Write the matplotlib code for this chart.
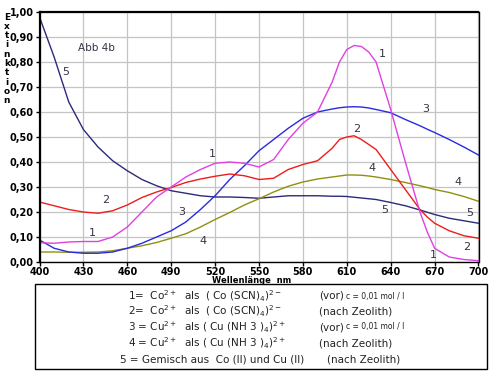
import matplotlib
matplotlib.use("Agg")
import matplotlib.pyplot as plt
from matplotlib.patches import Rectangle

plt.rcParams['font.family'] = ['DejaVu Sans']
plt.rcParams['mathtext.default'] = 'regular'

# wavelengths (nm)
wl = [400, 410, 420, 430, 440, 450, 460, 470, 480, 490, 500, 510, 520, 530, 540,
      550, 560, 570, 580, 590, 600, 605, 610, 615, 620, 625, 630, 640, 650, 660,
      665, 670, 680, 690, 700]

s1 = [0.077, 0.075, 0.080, 0.082, 0.082, 0.100, 0.140, 0.200, 0.260, 0.300, 0.340,
      0.370, 0.395, 0.400, 0.395, 0.380, 0.410, 0.490, 0.555, 0.600, 0.720, 0.800,
      0.850, 0.866, 0.862, 0.840, 0.800, 0.610, 0.400, 0.200, 0.120, 0.055, 0.020,
      0.010, 0.005]
s2 = [0.240, 0.225, 0.210, 0.200, 0.195, 0.205, 0.228, 0.258, 0.280, 0.298, 0.318,
      0.332, 0.343, 0.352, 0.345, 0.330, 0.335, 0.370, 0.390, 0.405, 0.455, 0.490,
      0.500, 0.505, 0.490, 0.470, 0.450, 0.370, 0.290, 0.210, 0.180, 0.155, 0.125,
      0.105, 0.095]
s3 = [0.088, 0.055, 0.040, 0.035, 0.035, 0.040, 0.055, 0.075, 0.100, 0.125, 0.160,
      0.210, 0.265, 0.330, 0.385, 0.445, 0.490, 0.535, 0.575, 0.600, 0.612, 0.617,
      0.620, 0.621, 0.620, 0.616, 0.610, 0.597, 0.570, 0.545, 0.531, 0.518, 0.490,
      0.460, 0.428]
s4 = [0.040, 0.040, 0.039, 0.039, 0.040, 0.045, 0.055, 0.065, 0.078, 0.095, 0.113,
      0.140, 0.170, 0.198, 0.228, 0.253, 0.280, 0.303, 0.320, 0.332, 0.340, 0.344,
      0.348, 0.348, 0.347, 0.344, 0.340, 0.330, 0.318, 0.305, 0.298, 0.290, 0.278,
      0.262, 0.243]
s5 = [0.980, 0.820, 0.640, 0.530, 0.460, 0.405, 0.365, 0.330, 0.305, 0.285, 0.275,
      0.265, 0.260, 0.260, 0.258, 0.255, 0.260, 0.265, 0.265, 0.265, 0.263, 0.263,
      0.262, 0.259, 0.256, 0.253, 0.250, 0.238, 0.225, 0.208, 0.199, 0.190, 0.175,
      0.165, 0.155]

x_ticks = [400, 430, 460, 490, 520, 550, 580, 610, 640, 670, 700]
y_ticks = [0.0, 0.1, 0.2, 0.3, 0.4, 0.5, 0.6, 0.7, 0.8, 0.9, 1.0]
y_ticklabels = ["0,00", "0,10", "0,20", "0,30", "0,40", "0,50", "0,60", "0,70",
                "0,80", "0,90", "1,00"]

curve_labels = [("5", 418, 0.76), ("1", 634, 0.832), ("3", 664, 0.61), ("2", 617, 0.53),
                ("1", 518, 0.432), ("2", 445, 0.248), ("4", 627, 0.375), ("4", 686, 0.319),
                ("3", 497, 0.201), ("5", 694, 0.197), ("5", 636, 0.208), ("4", 512, 0.085),
                ("1", 436, 0.115), ("2", 692, 0.061), ("1", 669, 0.028)]

legend_lines = [
    r"1=  Co$^{2+}$  als  ( Co (SCN)$_{4}$)$^{2-}$",
    r"2=  Co$^{2+}$  als  ( Co (SCN)$_{4}$)$^{2-}$",
    r"3 = Cu$^{2+}$  als ( Cu (NH 3 )$_{4}$)$^{2+}$",
    r"4 = Cu$^{2+}$  als ( Cu (NH 3 )$_{4}$)$^{2+}$",
    "5 = Gemisch aus  Co (II) und Cu (II)",
]
legend_notes = ["(vor)", "(nach Zeolith)", "(vor)", "(nach Zeolith)", "(nach Zeolith)"]
conc_note = "c = 0,01 mol / l"

fig = plt.figure(figsize=(4.93, 3.80), dpi=100)
ax = fig.add_axes([39.5 / 493, 1 - 262 / 380, (478.5 - 39.5) / 493, (262 - 12) / 380])

ax.plot(wl, s5, color="#2b2b7a", lw=1.0)
ax.plot(wl, s4, color="#8f8f10", lw=1.0)
ax.plot(wl, s3, color="#2a2ae0", lw=1.0)
ax.plot(wl, s2, color="#ee1c1c", lw=1.0)
ax.plot(wl, s1, color="#e040e0", lw=1.0)

ax.set_xlim(400, 700)
ax.set_ylim(0, 1.0)
ax.set_xticks(x_ticks)
ax.set_xticklabels([str(v) for v in x_ticks], fontsize=7, fontweight="bold")
ax.set_yticks(y_ticks)
ax.set_yticklabels(y_ticklabels, fontsize=7, fontweight="bold")
ax.tick_params(axis="both", length=3, width=1, pad=1)
ax.tick_params(axis="x", pad=0.5)
ax.grid(True, color="#c4c4c4", lw=0.9)
ax.set_axisbelow(True)
for side in ["left", "top"]:
    ax.spines[side].set_linewidth(1.6)
for side in ["right", "bottom"]:
    ax.spines[side].set_linewidth(1.0)

for txt, xv, yv in curve_labels:
    ax.text(xv, yv, txt, fontsize=8, color="#333344", ha="center", va="center")
ax.text(439, 0.856, "Abb 4b", fontsize=7.5, color="#333344", ha="center", va="center")

fig.text(252 / 493, 1 - 280.5 / 380, "Wellenlänge  nm", fontsize=6, fontweight="bold",
         ha="center", va="center")
for i, ch in enumerate("Extinktion"):
    fig.text(7 / 493, 1 - (17 + i * 9.3) / 380, ch, fontsize=6.5, fontweight="bold",
             ha="center", va="center")

fig.patches.append(Rectangle((35 / 493, 1 - 369 / 380), (487 - 35) / 493, (369 - 284) / 380,
                             transform=fig.transFigure, fill=False, ec="black", lw=1.0))
ys = [296, 311, 327, 343, 360]
for i, (line, note) in enumerate(zip(legend_lines, legend_notes)):
    fig.text((128 if i < 4 else 120) / 493, 1 - ys[i] / 380, line, fontsize=7.5,
             color="#222222", ha="left", va="center")
    fig.text((319 if i < 4 else 327) / 493, 1 - ys[i] / 380, note, fontsize=7.5,
             color="#222222", ha="left", va="center")
for i in (0, 2):
    fig.text(346 / 493, 1 - ys[i] / 380, conc_note, fontsize=5.5, color="#222222",
             ha="left", va="center")

fig.savefig("out.png", dpi=100)
